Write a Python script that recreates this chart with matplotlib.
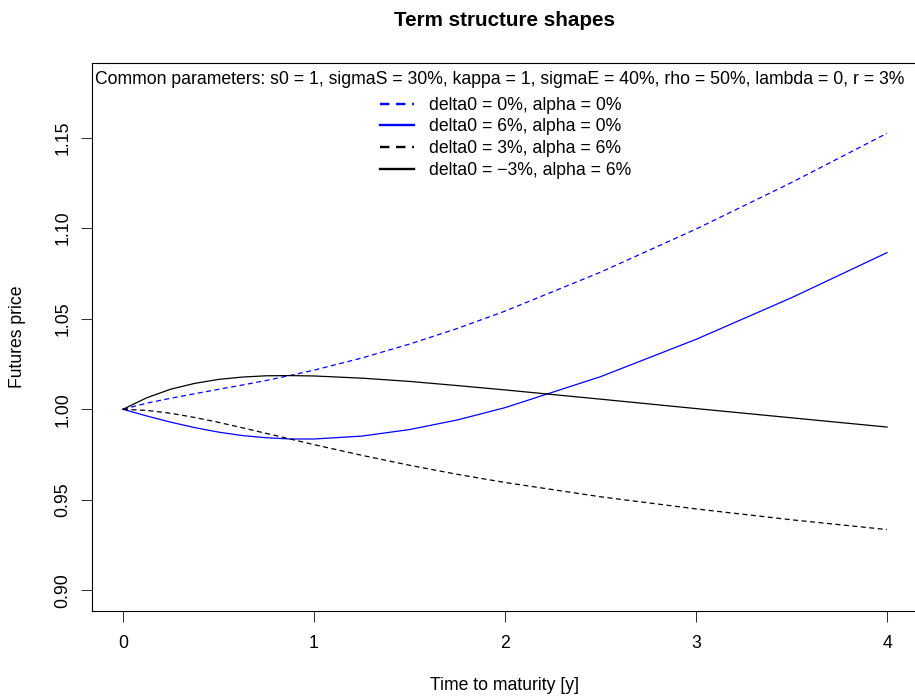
import matplotlib
matplotlib.use("Agg")
import matplotlib.pyplot as plt
from matplotlib.lines import Line2D

# ---- data ----
maturity = [0, 0.125, 0.25, 0.375, 0.5, 0.625, 0.75, 0.875, 1.0,
            1.25, 1.5, 1.75, 2.0, 2.5, 3.0, 3.5, 4.0]
price_d0_a0 = [1.0000, 1.0034, 1.0061, 1.0086, 1.0110, 1.0134, 1.0159, 1.0187, 1.0216,
               1.0283, 1.0360, 1.0446, 1.0542, 1.0757, 1.0995, 1.1252, 1.1524]
price_d6_a0 = [1.0000, 0.9963, 0.9929, 0.9899, 0.9874, 0.9855, 0.9843, 0.9836, 0.9836,
               0.9852, 0.9888, 0.9941, 1.0009, 1.0180, 1.0386, 1.0616, 1.0865]
price_d3_a6 = [1.0000, 0.9994, 0.9978, 0.9955, 0.9928, 0.9898, 0.9867, 0.9836, 0.9805,
               0.9746, 0.9691, 0.9641, 0.9596, 0.9517, 0.9450, 0.9390, 0.9336]
price_dm3_a6 = [1.0000, 1.0064, 1.0111, 1.0143, 1.0165, 1.0178, 1.0185, 1.0186, 1.0184,
                1.0172, 1.0154, 1.0131, 1.0107, 1.0056, 1.0004, 0.9953, 0.9902]

series = [price_d0_a0, price_d6_a0, price_d3_a6, price_dm3_a6]
labels = ["delta0 = 0%, alpha = 0%", "delta0 = 6%, alpha = 0%",
          "delta0 = 3%, alpha = 6%", "delta0 = \u22123%, alpha = 6%"]
colors = ["blue", "blue", "black", "black"]
dashed = [True, False, True, False]

x_ticks = [0, 1, 2, 3, 4]
y_ticks = [0.90, 0.95, 1.00, 1.05, 1.10, 1.15]
y_tick_labels = ["0.90", "0.95", "1.00", "1.05", "1.10", "1.15"]

title = "Term structure shapes"
legend_title = ("Common parameters: s0 = 1, sigmaS = 30%, kappa = 1, sigmaE = 40%, "
                "rho = 50%, lambda = 0, r = 3%")
xlabel = "Time to maturity [y]"
ylabel = "Futures price"

# ---- figure ----
plt.rcParams["font.family"] = ["Liberation Sans", "DejaVu Sans"]
FS = 12.7
W, H = 915, 699
fig = plt.figure(figsize=(W / 100, H / 100), dpi=100)
left, right, top, bottom = 92.4, 917.6, 63.0, 610.7
ax = fig.add_axes([left / W, (H - bottom) / H, (right - left) / W, (bottom - top) / H])

dash = (0, (4, 2.8))
for y, c, d in zip(series, colors, dashed):
    ax.plot(maturity, y, color=c, lw=0.9, linestyle=dash if d else "-")

ax.set_xlim(-0.16, 4.16)
ax.set_ylim(0.8888, 1.1912)
ax.set_xticks(x_ticks)
ax.set_xticklabels([str(t) for t in x_ticks])
ax.set_yticks(y_ticks)
ax.set_yticklabels(y_tick_labels, rotation=90, va="center")
ax.tick_params(direction="out", length=7.6, width=0.75, labelsize=FS, color="#333333")
ax.tick_params(axis="x", pad=10.0)
ax.tick_params(axis="y", pad=7.6)
for s in ax.spines.values():
    s.set_linewidth(0.8)

handles = [Line2D([], [], color=c, lw=1.7, linestyle=dash if d else "-")
           for c, d in zip(colors, dashed)]
ax.legend(handles, labels, loc="upper center",
          bbox_to_anchor=((506 - left) / (right - left), 1.0), frameon=False,
          fontsize=FS, handlelength=1.93, handletextpad=0.85,
          labelspacing=0.27, borderaxespad=0.0, borderpad=1.91)
ax.text((500 - left) / (right - left), 1 - (79 - top) / (bottom - top), legend_title,
        transform=ax.transAxes, ha="center", va="center", fontsize=FS)

fig.text(505 / W, 1 - 20 / H, title, ha="center", va="center",
         fontsize=14.9, fontweight="bold")
fig.text(505 / W, 1 - 686 / H, xlabel, ha="center", va="center", fontsize=FS)
fig.text(18 / W, 1 - 337 / H, ylabel, ha="center", va="center",
         rotation=90, fontsize=FS)

fig.savefig("out.png", dpi=100)
